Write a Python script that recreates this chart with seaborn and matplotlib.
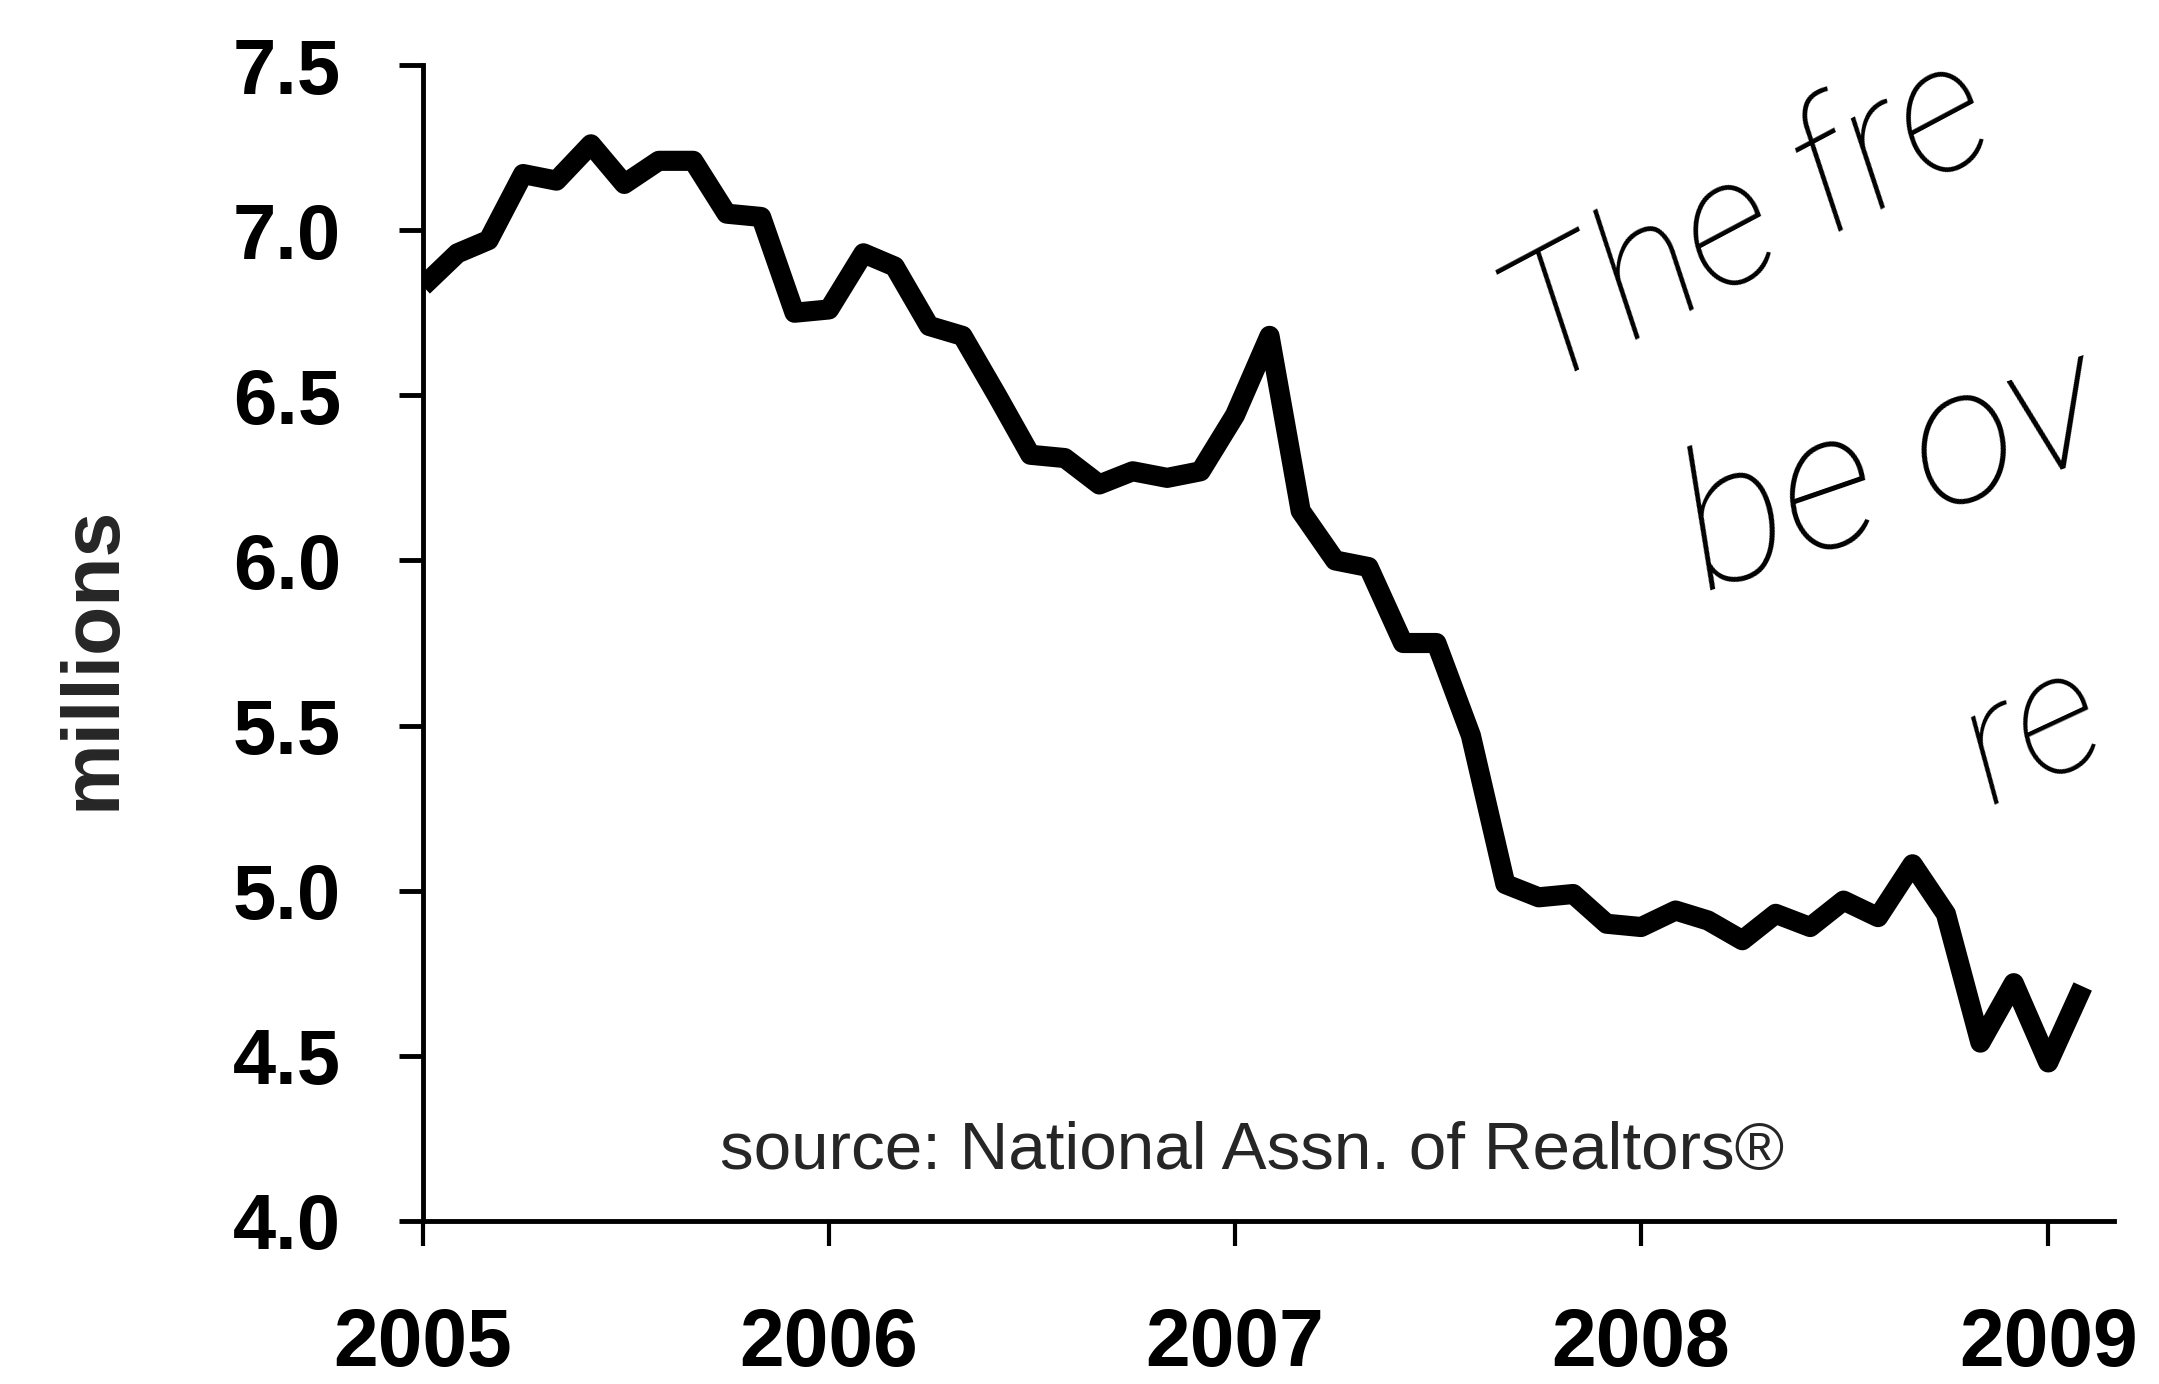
import matplotlib
matplotlib.use("Agg")
import matplotlib.pyplot as plt
import pandas as pd
import seaborn as sns

# monthly existing home sales, millions (Jan 2005 - Feb 2009)
months = pd.date_range("2005-01-01", periods=50, freq="MS")
sales = [6.83, 6.93, 6.97, 7.17, 7.15, 7.26, 7.14, 7.21, 7.21, 7.05, 7.04, 6.75,
         6.76, 6.93, 6.89, 6.71, 6.68, 6.50, 6.32, 6.31, 6.23, 6.27, 6.25, 6.27,
         6.44, 6.68, 6.15, 6.00, 5.98, 5.75, 5.75, 5.47, 5.02, 4.98, 4.99, 4.90,
         4.89, 4.94, 4.91, 4.85, 4.93, 4.89, 4.97, 4.92, 5.08, 4.93, 4.54, 4.72,
         4.48, 4.71]
years = [2005, 2006, 2007, 2008, 2009]
yticks = [4.0, 4.5, 5.0, 5.5, 6.0, 6.5, 7.0, 7.5]
source_note = "source: National Assn. of Realtors®"
scribble = ["The fre", "be ov", "re"]

df = pd.DataFrame({"month": months, "sales": sales})

sns.set_style("ticks")
plt.rcParams["font.family"] = ["Liberation Sans", "DejaVu Sans"]

fig = plt.figure(figsize=(21.59, 13.84), dpi=100)
ax = fig.add_axes([0.1959, 0.1178, 0.7832, 0.8352])

sns.lineplot(data=df, x="month", y="sales", ax=ax, color="black", lw=14.5,
             solid_joinstyle="round", solid_capstyle="butt")

ax.set_ylim(4.0, 7.5)
ax.set_xlim(pd.Timestamp("2005-01-01"), pd.Timestamp("2009-03-01"))
ax.set_yticks(yticks)
ax.set_yticklabels([f"{v:.1f}" for v in yticks])
ax.set_xticks([pd.Timestamp(f"{y}-01-01") for y in years])
ax.set_xticklabels([str(y) for y in years])
ax.set_xlabel("")
ax.set_ylabel("")

sns.despine(ax=ax)
for s in ["left", "bottom"]:
    ax.spines[s].set_linewidth(3.5)
    ax.spines[s].set_color("black")
ax.tick_params(axis="y", length=17, width=3.5, pad=42, labelsize=56, colors="black")
ax.tick_params(axis="x", length=18, width=3, pad=44, labelsize=58, colors="black")
for lab in ax.get_xticklabels() + ax.get_yticklabels():
    lab.set_fontweight("bold")

fig.text(132 / 2159, 1 - 658 / 1384, "millions", rotation=90, ha="right",
         va="center", fontsize=58, fontweight="bold")
fig.text(720 / 2159, 1 - 1169 / 1384, source_note, ha="left", va="baseline",
         fontsize=48.5)

# handwritten note in the upper right corner
hand = dict(family=["Roboto", "DejaVu Sans"], fontweight=100, fontstyle="italic",
            ha="left", va="baseline", rotation_mode="anchor", color="black")
fig.text(1540 / 2159, 1 - 390 / 1384, scribble[0], rotation=28, fontsize=128, **hand)
fig.text(1705 / 2159, 1 - 592 / 1384, scribble[1], rotation=19, fontsize=138, **hand)
fig.text(1990 / 2159, 1 - 805 / 1384, scribble[2], rotation=25, fontsize=122, **hand)

fig.savefig("out.png", dpi=100)
